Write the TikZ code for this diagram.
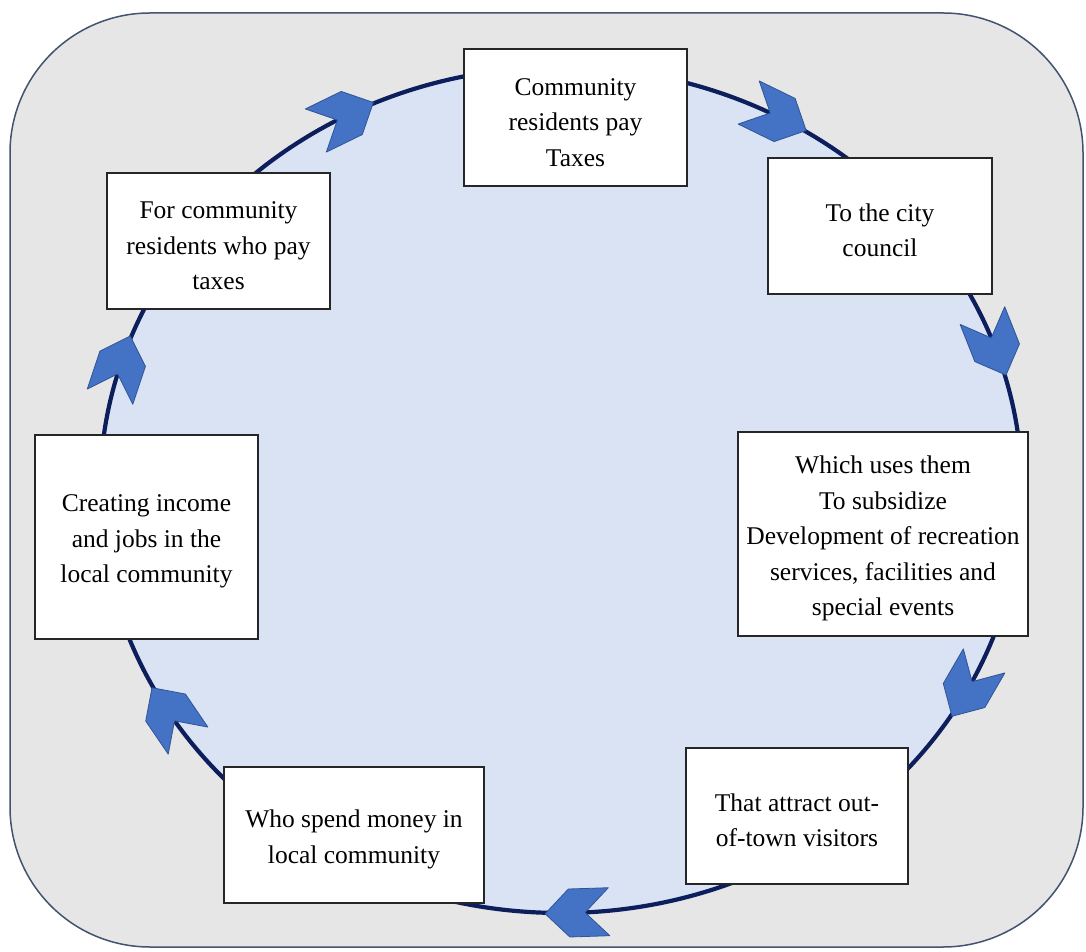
\documentclass[tikz,border=0pt]{standalone}
\usepackage{fontspec}
\setmainfont{Liberation Serif}
\definecolor{bggrey}{RGB}{231,230,231}
\definecolor{ringfill}{RGB}{218,227,243}
\definecolor{ringline}{RGB}{12,30,92}
\definecolor{chevfill}{RGB}{68,114,196}
\definecolor{chevline}{RGB}{47,85,151}
\definecolor{frameline}{RGB}{66,82,112}
\newcommand\topgap{\rule{0pt}{26.5pt}}
\tikzset{
  stepbox/.style={draw=black!85, line width=1.3pt, fill=white, align=center, inner sep=0pt,
    font=\fontsize{25.5}{35.5}\selectfont},
  chev/.style={fill=chevfill, draw=chevline, line width=0.8pt, line join=round}
}
\begin{document}
\begin{tikzpicture}[x=1pt,y=1pt]
  \def\a{461} \def\b{423}
  \useasboundingbox (0,0) rectangle (1086,951);
  \coordinate (O) at (561,461);
  \draw[frameline, line width=1.5pt, fill=bggrey, rounded corners=140pt] (10,4) rectangle (1083,938);
  \draw[ringline, line width=4.2pt, fill=ringfill] (O) ellipse [x radius=\a, y radius=\b];
  % chevrons along the ring, clockwise
  \foreach \t in {118,62,20,-28,-88,-148,163}{
    \pgfmathsetmacro\r{atan2(-\b*cos(\t),\a*sin(\t))}
    \filldraw[chev, shift={(O)}, shift={({\a*cos(\t)},{\b*sin(\t)})}, rotate=\r]
      (-32,24) -- (8,24) -- (32,0) -- (8,-24) -- (-32,-24) -- (-8,0) -- cycle;
  }
  \node[stepbox, minimum width=223, minimum height=137] (tax) at (575.5,833.5) {\topgap Community\\ residents pay\\ Taxes};
  \node[stepbox, minimum width=224, minimum height=136] (council) at (880,725) {\topgap To the city\\ council};
  \node[stepbox, minimum width=290, minimum height=204] (uses) at (883,417) {\topgap Which uses them\\ To subsidize\\ Development of recreation\\ services, facilities and\\ special events};
  \node[stepbox, minimum width=222, minimum height=136] (visitors) at (797,135) {\topgap That attract out-\\ of-town visitors};
  \node[stepbox, minimum width=260, minimum height=136] (spend) at (354,116) {\topgap Who spend money in\\ local community};
  \node[stepbox, minimum width=223, minimum height=204] (income) at (146.5,414) {\topgap Creating income\\ and jobs in the\\ local community};
  \node[stepbox, minimum width=223, minimum height=136] (payers) at (218.5,710) {\topgap For community\\ residents who pay\\ taxes};
\end{tikzpicture}
\end{document}
